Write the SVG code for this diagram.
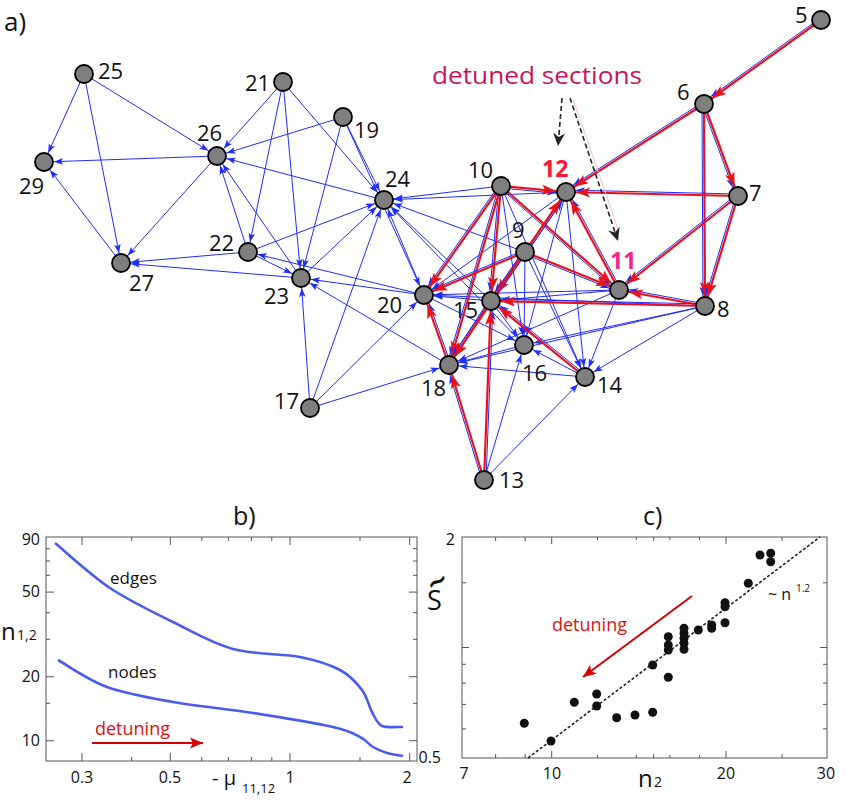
<svg xmlns="http://www.w3.org/2000/svg" width="847" height="805" viewBox="0 0 847 805">
<defs>
<style>
.e{stroke:#1f2cff;stroke-width:1;fill:none;marker-end:url(#ab)}
.r{stroke:#e8121a;stroke-width:2.2;fill:none;marker-end:url(#ar)}
.nd{fill:#7f7f7f;stroke:#000;stroke-width:1.8}
.lb{font-family:"Open Sans","Liberation Sans",sans-serif;font-size:22px;fill:#111}
.ax{font-family:"Open Sans","Liberation Sans",sans-serif;font-size:16px;fill:#111}
.fr{fill:none;stroke:#555;stroke-width:1}
.tk{fill:none;stroke:#555;stroke-width:1}
.cv{fill:none;stroke:#4a5cf0;stroke-width:2.6}
.pt{fill:#111}
</style>
<marker id="ab" markerUnits="userSpaceOnUse" orient="auto" overflow="visible" markerWidth="1" markerHeight="1" refX="0" refY="0"><path d="M-10,0 L-19,-3.3 L-17,0 L-19,3.3Z" fill="#1f2cff"/></marker>
<marker id="ar" markerUnits="userSpaceOnUse" orient="auto" overflow="visible" markerWidth="1" markerHeight="1" refX="0" refY="0"><path d="M-10,0 L-24,-5 L-21,0 L-24,5Z" fill="#e8121a"/></marker>
<marker id="dk" markerUnits="userSpaceOnUse" orient="auto" overflow="visible" markerWidth="1" markerHeight="1" refX="0" refY="0"><path d="M0,0 L-13,-6 L-9,0 L-13,6Z" fill="#222"/></marker>
<marker id="rh" markerUnits="userSpaceOnUse" orient="auto" overflow="visible" markerWidth="1" markerHeight="1" refX="0" refY="0"><path d="M0,0 L-13,-5.5 L-10,0 L-13,5.5Z" fill="#d40000"/></marker>
</defs>
<rect width="847" height="805" fill="#fff"/>

<text x="4" y="31" style="font-family:'Open Sans','Liberation Sans',sans-serif;font-size:26px;fill:#111">a)</text>
<text x="432" y="84" textLength="210" lengthAdjust="spacingAndGlyphs" style="font-family:'Open Sans','Liberation Sans',sans-serif;font-size:24px;fill:#c8145a">detuned sections</text>

<g id="connectors">
<line class="e" x1="84" y1="74" x2="44" y2="162"/>
<line class="e" x1="84" y1="74" x2="121" y2="263"/>
<line class="e" x1="84" y1="74" x2="217" y2="156"/>
<line class="e" x1="217" y1="156" x2="44" y2="162"/>
<line class="e" x1="217" y1="156" x2="121" y2="263"/>
<line class="e" x1="121" y1="263" x2="44" y2="162"/>
<line class="e" x1="283" y1="82" x2="217" y2="156"/>
<line class="e" x1="283" y1="82" x2="248" y2="252"/>
<line class="e" x1="283" y1="82" x2="301" y2="278"/>
<line class="e" x1="283" y1="82" x2="384" y2="200"/>
<line class="e" x1="343" y1="117" x2="217" y2="156"/>
<line class="e" x1="343" y1="117" x2="301" y2="278"/>
<line class="e" x1="343" y1="117" x2="384" y2="200"/>
<line class="e" x1="343" y1="117" x2="424" y2="295"/>
<line class="e" x1="384" y1="200" x2="217" y2="156"/>
<line class="e" x1="248" y1="252" x2="217" y2="156"/>
<line class="e" x1="301" y1="278" x2="217" y2="156"/>
<line class="e" x1="248" y1="252" x2="121" y2="263"/>
<line class="e" x1="301" y1="278" x2="121" y2="263"/>
<line class="e" x1="248" y1="252" x2="384" y2="200"/>
<line class="e" x1="248" y1="252" x2="301" y2="278"/>
<line class="e" x1="424" y1="295" x2="248" y2="252"/>
<line class="e" x1="424" y1="295" x2="301" y2="278"/>
<line class="e" x1="301" y1="278" x2="384" y2="200"/>
<line class="e" x1="310" y1="408" x2="301" y2="278"/>
<line class="e" x1="310" y1="408" x2="384" y2="200"/>
<line class="e" x1="310" y1="408" x2="424" y2="295"/>
<line class="e" x1="310" y1="408" x2="449" y2="365"/>
<line class="e" x1="449" y1="365" x2="301" y2="278"/>
<line class="e" x1="424" y1="295" x2="384" y2="200"/>
<line class="e" x1="501" y1="186" x2="384" y2="200"/>
<line class="e" x1="566" y1="192" x2="384" y2="200"/>
<line class="e" x1="525" y1="252" x2="384" y2="200"/>
<line class="e" x1="491" y1="301" x2="384" y2="200"/>
<line class="e" x1="524" y1="345" x2="384" y2="200"/>
<line class="e" x1="491" y1="301" x2="424" y2="295"/>
<line class="e" x1="619" y1="290" x2="424" y2="295"/>
<line class="e" x1="705" y1="306" x2="424" y2="295"/>
<line class="e" x1="566" y1="192" x2="424" y2="295"/>
<line class="e" x1="501" y1="186" x2="524" y2="345"/>
<line class="e" x1="501" y1="186" x2="585" y2="377"/>
<line class="e" x1="566" y1="192" x2="524" y2="345"/>
<line class="e" x1="566" y1="192" x2="585" y2="377"/>
<line class="e" x1="525" y1="252" x2="524" y2="345"/>
<line class="e" x1="525" y1="252" x2="585" y2="377"/>
<line class="e" x1="619" y1="290" x2="585" y2="377"/>
<line class="e" x1="619" y1="290" x2="491" y2="301"/>
<line class="e" x1="619" y1="290" x2="449" y2="365"/>
<line class="e" x1="705" y1="306" x2="585" y2="377"/>
<line class="e" x1="705" y1="306" x2="524" y2="345"/>
<line class="e" x1="705" y1="306" x2="449" y2="365"/>
<line class="e" x1="524" y1="345" x2="449" y2="365"/>
<line class="e" x1="585" y1="377" x2="449" y2="365"/>
<line class="e" x1="585" y1="377" x2="524" y2="345"/>
<line class="e" x1="484" y1="480" x2="524" y2="345"/>
<line class="e" x1="484" y1="480" x2="585" y2="377"/>
<line class="e" x1="491" y1="301" x2="524" y2="345"/>
<line class="e" x1="424" y1="295" x2="524" y2="345"/>

<!-- detuned (red) edges with blue companion -->
<line class="e" x1="819.8" y1="18.4" x2="702.8" y2="102.4"/><line class="r" x1="821" y1="20" x2="704" y2="104"/>
<line class="e" x1="702.9" y1="102.3" x2="564.9" y2="190.3"/><line class="r" x1="704" y1="104" x2="566" y2="192"/>
<line class="e" x1="702.1" y1="104.7" x2="736.1" y2="196.7"/><line class="r" x1="704" y1="104" x2="738" y2="196"/>
<line class="e" x1="702" y1="104" x2="703" y2="306"/><line class="r" x1="704" y1="104" x2="705" y2="306"/>
<line class="e" x1="738" y1="194" x2="566" y2="190"/><line class="r" x1="738" y1="196" x2="566" y2="192"/>
<line class="e" x1="736.8" y1="194.4" x2="617.8" y2="288.4"/><line class="r" x1="738" y1="196" x2="619" y2="290"/>
<line class="e" x1="736.1" y1="195.4" x2="703.1" y2="305.4"/><line class="r" x1="738" y1="196" x2="705" y2="306"/>
<line class="e" x1="705.4" y1="304" x2="619.4" y2="288"/><line class="r" x1="705" y1="306" x2="619" y2="290"/>
<line class="e" x1="705" y1="304" x2="491" y2="299"/><line class="r" x1="705" y1="306" x2="491" y2="301"/>
<line class="e" x1="500.8" y1="188" x2="565.8" y2="194"/><line class="r" x1="501" y1="186" x2="566" y2="192"/>
<line class="e" x1="499.7" y1="187.5" x2="617.7" y2="291.5"/><line class="r" x1="501" y1="186" x2="619" y2="290"/>
<line class="e" x1="499.4" y1="184.8" x2="422.4" y2="293.8"/><line class="r" x1="501" y1="186" x2="424" y2="295"/>
<line class="e" x1="499" y1="185.8" x2="489" y2="300.8"/><line class="r" x1="501" y1="186" x2="491" y2="301"/>
<line class="e" x1="499.1" y1="185.4" x2="447.1" y2="364.4"/><line class="r" x1="501" y1="186" x2="449" y2="365"/>
<line class="e" x1="526.7" y1="253.1" x2="567.7" y2="193.1"/><line class="r" x1="525" y1="252" x2="566" y2="192"/>
<line class="e" x1="524.3" y1="253.9" x2="618.3" y2="291.9"/><line class="r" x1="525" y1="252" x2="619" y2="290"/>
<line class="e" x1="524.2" y1="250.2" x2="423.2" y2="293.2"/><line class="r" x1="525" y1="252" x2="424" y2="295"/>
<line class="e" x1="523.4" y1="250.9" x2="489.4" y2="299.9"/><line class="r" x1="525" y1="252" x2="491" y2="301"/>
<line class="e" x1="523.3" y1="250.9" x2="447.3" y2="363.9"/><line class="r" x1="525" y1="252" x2="449" y2="365"/>
<line class="e" x1="492.6" y1="302.1" x2="567.6" y2="193.1"/><line class="r" x1="491" y1="301" x2="566" y2="192"/>
<line class="e" x1="620.8" y1="289" x2="567.8" y2="191"/><line class="r" x1="619" y1="290" x2="566" y2="192"/>
<line class="e" x1="586.3" y1="375.4" x2="492.3" y2="299.4"/><line class="r" x1="585" y1="377" x2="491" y2="301"/>
<line class="e" x1="489.3" y1="299.9" x2="447.3" y2="363.9"/><line class="r" x1="491" y1="301" x2="449" y2="365"/>
<line class="e" x1="486" y1="480.1" x2="493" y2="301.1"/><line class="r" x1="484" y1="480" x2="491" y2="301"/>
<line class="e" x1="482.1" y1="480.6" x2="447.1" y2="365.6"/><line class="r" x1="484" y1="480" x2="449" y2="365"/>
<line class="e" x1="450.9" y1="364.3" x2="425.9" y2="294.3"/><line class="r" x1="449" y1="365" x2="424" y2="295"/>

<!-- pointer arrows -->
<line x1="573" y1="99" x2="619" y2="232" stroke="#f2b6cf" stroke-width="0.9"/>
<line x1="562" y1="98" x2="558" y2="146" stroke="#222" stroke-width="1.6" stroke-dasharray="5,3" marker-end="url(#dk)"/>
<line x1="570" y1="98" x2="618" y2="241" stroke="#222" stroke-width="1.6" stroke-dasharray="5,3" marker-end="url(#dk)"/>
</g>

<g id="n5"><circle class="nd" cx="821" cy="20" r="9"/><text class="lb" x="795" y="23">5</text></g>
<g id="n6"><circle class="nd" cx="704" cy="104" r="9"/><text class="lb" x="677" y="100">6</text></g>
<g id="n7"><circle class="nd" cx="738" cy="196" r="9"/><text class="lb" x="749" y="201">7</text></g>
<g id="n8"><circle class="nd" cx="705" cy="306" r="9"/><text class="lb" x="717" y="317">8</text></g>
<g id="n9"><circle class="nd" cx="525" cy="252" r="9"/><text class="lb" x="512" y="238">9</text></g>
<g id="n10"><circle class="nd" cx="501" cy="186" r="9"/><text class="lb" x="468" y="178">10</text></g>
<g id="n11"><circle class="nd" cx="619" cy="290" r="9"/><text x="610" y="269" style="font-family:'Open Sans','Liberation Sans',sans-serif;font-size:23px;font-weight:bold;fill:#f0268a">11</text></g>
<g id="n12"><circle class="nd" cx="566" cy="192" r="9"/><text x="542" y="177" style="font-family:'Open Sans','Liberation Sans',sans-serif;font-size:23px;font-weight:bold;fill:#ff1438">12</text></g>
<g id="n13"><circle class="nd" cx="484" cy="480" r="9"/><text class="lb" x="499" y="488">13</text></g>
<g id="n14"><circle class="nd" cx="585" cy="377" r="9"/><text class="lb" x="597" y="393">14</text></g>
<g id="n15"><circle class="nd" cx="491" cy="301" r="9"/><text class="lb" x="453" y="318">15</text></g>
<g id="n16"><circle class="nd" cx="524" cy="345" r="9"/><text class="lb" x="522" y="381">16</text></g>
<g id="n17"><circle class="nd" cx="310" cy="408" r="9"/><text class="lb" x="274" y="409">17</text></g>
<g id="n18"><circle class="nd" cx="449" cy="365" r="9"/><text class="lb" x="421" y="396">18</text></g>
<g id="n19"><circle class="nd" cx="343" cy="117" r="9"/><text class="lb" x="354" y="138">19</text></g>
<g id="n20"><circle class="nd" cx="424" cy="295" r="9"/><text class="lb" x="377" y="313">20</text></g>
<g id="n21"><circle class="nd" cx="283" cy="82" r="9"/><text class="lb" x="245" y="91">21</text></g>
<g id="n22"><circle class="nd" cx="248" cy="252" r="9"/><text class="lb" x="209" y="251">22</text></g>
<g id="n23"><circle class="nd" cx="301" cy="278" r="9"/><text class="lb" x="264" y="304">23</text></g>
<g id="n24"><circle class="nd" cx="384" cy="200" r="9"/><text class="lb" x="385" y="187">24</text></g>
<g id="n25"><circle class="nd" cx="84" cy="74" r="9"/><text class="lb" x="98" y="79">25</text></g>
<g id="n26"><circle class="nd" cx="217" cy="156" r="9"/><text class="lb" x="197" y="141">26</text></g>
<g id="n27"><circle class="nd" cx="121" cy="263" r="9"/><text class="lb" x="129" y="291">27</text></g>
<g id="n29"><circle class="nd" cx="44" cy="162" r="9"/><text class="lb" x="19" y="194">29</text></g>

<!-- panel b -->
<g id="panel-b">
<text x="233" y="525" style="font-family:'Open Sans','Liberation Sans',sans-serif;font-size:25px;fill:#111">b)</text>
<rect class="fr" x="46" y="537" width="371" height="224"/>
<path class="tk" d="M46,740.7h8M46,703.3h4M46,676.7h8M46,639.3h4M46,612.7h4M46,592.1h8M46,575.3h4M46,561h4M46,548.7h4
M417,740.7h-8M417,703.3h-4M417,676.7h-8M417,639.3h-4M417,612.7h-4M417,592.1h-8M417,575.3h-4M417,561h-4M417,548.7h-4
M82,761v-8M131.7,761v-4M170.3,761v-8M201.8,761v-4M228.4,761v-4M251.4,761v-4M271.8,761v-4M290,761v-8M360,761v-4M409.7,761v-8
M82,537v8M131.7,537v4M170.3,537v8M201.8,537v4M228.4,537v4M251.4,537v4M271.8,537v4M290,537v8M360,537v4M409.7,537v8"/>
<text class="ax" x="40" y="545" text-anchor="end">90</text>
<text class="ax" x="40" y="597" text-anchor="end">50</text>
<text class="ax" x="40" y="682" text-anchor="end">20</text>
<text class="ax" x="40" y="746" text-anchor="end">10</text>
<text class="ax" x="82" y="783" text-anchor="middle">0.3</text>
<text class="ax" x="170" y="783" text-anchor="middle">0.5</text>
<text class="ax" x="290" y="783" text-anchor="middle">1</text>
<text class="ax" x="407" y="783" text-anchor="middle">2</text>
<text x="212" y="785" style="font-family:'Open Sans','Liberation Sans',sans-serif;font-size:20px;fill:#111">- μ</text>
<text x="242" y="793" style="font-family:'Open Sans','Liberation Sans',sans-serif;font-size:13px;fill:#111">11,12</text>
<text x="1" y="640" style="font-family:'Open Sans','Liberation Sans',sans-serif;font-size:24px;fill:#111">n</text>
<text x="17" y="640" style="font-family:'Open Sans','Liberation Sans',sans-serif;font-size:14px;fill:#111">1,2</text>
<path class="cv" d="M55,543 C64.2,550.5 90.3,574.8 110,588 C129.7,601.2 152.5,611.8 173,622 C193.5,632.2 211.8,643.2 233,649 C254.2,654.8 282.2,653.5 300,657 C317.8,660.5 329.7,664.5 340,670 C350.3,675.5 356.7,683 362,690 C367.3,697 368.7,706 372,712 C375.3,718 376.8,723.5 382,726 C387.2,728 399.5,726.8 403,727"/>
<path class="cv" d="M58,660 C66.2,664.5 87.8,680 107,687 C126.2,694 148.7,697.7 173,702 C197.3,706.3 226.3,708.8 253,713 C279.7,717.2 315.2,723 333,727 C350.8,731 353.3,733.7 360,737 C366.7,740.3 368.5,744.3 373,747 C377.5,749.7 382,751.5 387,753 C392,754.5 400.3,755.5 403,756"/>
<text x="110" y="584" style="font-family:'Open Sans','Liberation Sans',sans-serif;font-size:17px;fill:#111">edges</text>
<text x="108" y="678" style="font-family:'Open Sans','Liberation Sans',sans-serif;font-size:17px;fill:#111">nodes</text>
<text x="95" y="735" style="font-family:'Open Sans','Liberation Sans',sans-serif;font-size:18px;fill:#e01010">detuning</text>
<line x1="92" y1="743" x2="203" y2="743" stroke="#d40000" stroke-width="2" marker-end="url(#rh)"/>
</g>

<!-- panel c -->
<g id="panel-c">
<text x="643" y="525" style="font-family:'Open Sans','Liberation Sans',sans-serif;font-size:25px;fill:#111">c)</text>
<rect class="fr" x="462" y="537" width="365" height="221"/>
<path class="tk" d="M462,582.8h4M462,647.5h7M462,664.3h4M462,683.1h4M462,704.4h4M462,728.9h4
M827,582.8h-4M827,647.5h-7M827,664.3h-4M827,683.1h-4M827,704.4h-4M827,728.9h-4
M495.6,758v-4M525.2,758v-4M551.7,758v-7M597.5,758v-3M636.3,758v-3M653.7,758v-4M669.9,758v-3M699.5,758v-3M726,758v-7M782.1,758v-4
M495.6,537v4M525.2,537v4M551.7,537v7M597.5,537v3M636.3,537v3M653.7,537v4M669.9,537v3M699.5,537v3M726,537v7M782.1,537v4"/>
<text class="ax" x="455" y="545" text-anchor="end">2</text>
<text class="ax" x="441" y="763" text-anchor="end">0.5</text>
<text class="ax" x="464" y="779" text-anchor="middle">7</text>
<text class="ax" x="552" y="779" text-anchor="middle">10</text>
<text class="ax" x="726" y="779" text-anchor="middle">20</text>
<text class="ax" x="826" y="779" text-anchor="middle">30</text>
<text x="638" y="787" style="font-family:'Open Sans','Liberation Sans',sans-serif;font-size:24px;fill:#111">n</text>
<text x="654" y="787" style="font-family:'Open Sans','Liberation Sans',sans-serif;font-size:14px;fill:#111">2</text>
<text x="427" y="610" style="font-family:'Open Sans','Liberation Sans',sans-serif;font-size:27px;fill:#111">S</text>
<text x="0" y="0" transform="translate(437,581) rotate(-30)" text-anchor="middle" dominant-baseline="central" style="font-family:'DejaVu Sans',sans-serif;font-size:26px;font-weight:bold;fill:#111">~</text>
<line x1="528" y1="758" x2="820" y2="537" stroke="#222" stroke-width="1.6" stroke-dasharray="3,2"/>
<text x="768" y="600" style="font-family:'Open Sans','Liberation Sans',sans-serif;font-size:16px;fill:#111">~ n</text>
<text x="796" y="592" style="font-family:'Open Sans','Liberation Sans',sans-serif;font-size:10px;fill:#111">1.2</text>
<text x="552" y="631" style="font-family:'Open Sans','Liberation Sans',sans-serif;font-size:18px;fill:#e01010">detuning</text>
<line x1="692" y1="596" x2="583" y2="677" stroke="#d40000" stroke-width="2" marker-end="url(#rh)"/>
<g class="pt">
<circle cx="524.3" cy="723.3" r="4.5"/><circle cx="551" cy="741" r="4.5"/><circle cx="574.3" cy="702.3" r="4.5"/>
<circle cx="596.7" cy="694" r="4.5"/><circle cx="596.7" cy="706" r="4.5"/><circle cx="616.7" cy="717.7" r="4.5"/>
<circle cx="635" cy="715" r="4.5"/><circle cx="652.7" cy="712.3" r="4.5"/><circle cx="652.7" cy="665" r="4.5"/>
<circle cx="668.3" cy="677.3" r="4.5"/><circle cx="668.3" cy="636.7" r="4.5"/><circle cx="668.3" cy="645" r="4.5"/>
<circle cx="668.3" cy="650" r="4.5"/><circle cx="684" cy="628.3" r="4.5"/><circle cx="684" cy="633.3" r="4.5"/>
<circle cx="684" cy="638.3" r="4.5"/><circle cx="684" cy="643.3" r="4.5"/><circle cx="684" cy="649.3" r="4.5"/>
<circle cx="698.3" cy="630" r="4.5"/><circle cx="711.7" cy="625" r="4.5"/><circle cx="711.7" cy="628.3" r="4.5"/>
<circle cx="725" cy="602.7" r="4.5"/><circle cx="725" cy="606.7" r="4.5"/><circle cx="725" cy="622.7" r="4.5"/>
<circle cx="748.3" cy="583.3" r="4.5"/><circle cx="760" cy="555" r="4.5"/><circle cx="770.7" cy="553.3" r="4.5"/>
<circle cx="770.7" cy="561.7" r="4.5"/>
</g>
</g>
</svg>
